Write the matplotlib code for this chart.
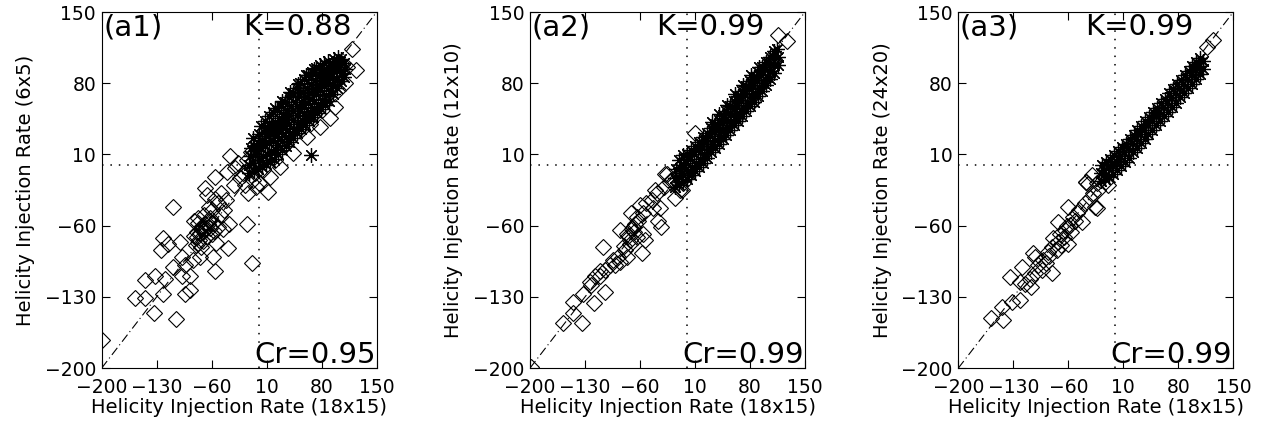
import matplotlib.pyplot as plt

# axis setup shared by the three panels
ticks = [-200, -130, -60, 10, 80, 150]
xlabel = 'Helicity Injection Rate (18x15)'
ylabels = ['Helicity Injection Rate (6x5)', 'Helicity Injection Rate (12x10)',
           'Helicity Injection Rate (24x20)']
tags = ['(a1)', '(a2)', '(a3)']
k_text = ['K=0.88', 'K=0.99', 'K=0.99']
cr_text = ['Cr=0.95', 'Cr=0.99', 'Cr=0.99']

# ---- panel a1 (6x5 vs 18x15) ----
a1_dia_x = [-200, -157, -145, -134, -105, -145, -132, -122, -119, -109, -122, -115, -124, -109, -100,
            -98, -94, -88, -98, -88, -94, -84, -75, -56, -58, -39, -54, -82, -79, -76,
            -80, -77, -83, -77, -70, -64, -58, -72, -62, -52, -46, -38, -15, -60, -66,
            -56, -48, -42, -52, -69, -56, -41, -37, -24, -18, -14, -4, -9, 12, -30,
            -26, -20, -32, -8, -64, -70, -60, -50, -44, -74, -68, -66, -78,
            -73, -71, -67, -79, -75, -65, -62, -57,
            14, 27, 44, 61, 78, 91, 97, 101, 112, 118, 124, 104, 95, 85, 70,
            55, 35, 20, 5, -5, 0, -12, -15, -10, 8, 30, 50, 75, 100, 110, 65]
a1_dia_y = [-172, -131, -131, -146, -152, -113, -109, -127, -112, -101, -72, -78, -84, -42, -76,
            -91, -127, -123, -109, -109, -99, -94, -91, -105, -91, -82, -77, -70, -66, -74,
            -79, -77, -55, -52, -50, -55, -57, -60, -62, -61, -63, -58, -58, -45, -30,
            -34, -28, -35, -38, -23, -12, -7, 8, -13, -20, -28, -22, -97, -27, -3,
            2, -8, -20, -15, -42, -65, -68, -50, -45, -63, -58, -70, -57,
            -81, -75, -62, -71, -67, -58, -52, -65,
            -12, -2, 11, 27, 37, 46, 57, 73, 96, 114, 93, 100, 90, 70, 50,
            35, 20, 5, -5, -8, -18, -5, 5, 12, 10, 30, 50, 65, 85, 80, 40]
a1_star_x = [-12, -13, -11, -10, -6, -7, -5, -6, -7, -1, 0, -2, -1, 0,
             4, 5, 3, 4, 6, 3, 9, 10, 8, 9, 11, 8, 14, 15, 13, 14, 16, 13,
             19, 20, 18, 19, 21, 18, 20, 24, 25, 23, 24, 26, 23,
             29, 30, 28, 29, 31, 28, 30, 34, 35, 33, 34, 36, 33,
             39, 40, 38, 39, 41, 38, 40, 44, 45, 43, 44, 46, 43,
             49, 50, 48, 49, 51, 48, 50, 54, 55, 53, 54, 56, 53,
             59, 60, 58, 59, 61, 58, 60, 64, 65, 63, 64, 66, 63,
             69, 70, 68, 69, 71, 68, 70, 74, 75, 73, 74, 76, 73,
             79, 80, 78, 79, 81, 78, 84, 85, 83, 84, 86, 83,
             89, 90, 88, 89, 91, 88, 94, 95, 93, 94, 96,
             99, 100, 98, 99, 101, 104, 105, 103, 104, 109, 110, 108, 67]
a1_star_y = [-8, 0, 8, 16, -6, 2, 10, 18, 26, -4, 5, 13, 21, 30,
             -2, 8, 16, 24, 32, 38, 1, 10, 19, 28, 36, 43, 3, 12, 21, 30, 39, 48,
             6, 15, 24, 33, 42, 52, 56, 10, 19, 28, 37, 46, 54,
             14, 23, 32, 41, 50, 58, 63, 18, 27, 36, 45, 54, 62,
             22, 31, 40, 49, 58, 66, 71, 26, 35, 44, 53, 62, 70,
             31, 40, 49, 58, 67, 75, 79, 35, 44, 53, 62, 71, 80,
             39, 48, 57, 66, 75, 84, 88, 43, 52, 61, 70, 79, 88,
             47, 56, 65, 74, 83, 91, 94, 51, 60, 69, 78, 87, 95,
             55, 64, 73, 82, 91, 98, 59, 68, 77, 86, 94, 100,
             63, 72, 81, 90, 98, 102, 69, 78, 87, 96, 104,
             75, 84, 93, 101, 106, 82, 90, 98, 104, 86, 94, 100, 9]

# ---- panel a2 (12x10 vs 18x15) ----
a2_dia_x = [-199, -134, -158, -145, -145, -132, -119, -122, -105, -111, -107, -58, -54,
            -124, -117, -111, -98, -94, -88, -79, -86, -73, -77, -86, -69, -64, -71,
            -56, -52, -45, -43, -35, -39, -30, -22, -41, -60, -56, -73, -64, -37,
            -33, -77, -92, -105, -15, -7, -28, -75, -70, -66, -62, -81, -68,
            10, 127, 116, 110, 101, 84, 61, 46, -9, -26, 20, 40, 70, 90, 0, -20,
            30, 55, 80, 100, -5]
a2_dia_y = [-199, -156, -156, -146, -135, -127, -136, -118, -125, -109, -81, -87, -74,
            -115, -109, -105, -99, -94, -91, -84, -96, -78, -68, -64, -61, -51, -48,
            -48, -38, -35, -43, -43, -28, -22, -17, -25, -40, -68, -74, -71, -55,
            -61, -91, -99, -104, -33, -25, -9, -70, -63, -58, -55, -80, -66,
            31, 122, 127, 104, 86, 63, 45, 36, -25, -9, 15, 30, 60, 80, -10, -15,
            22, 48, 72, 95, -18]
a2_star_x = [-15, -16, -14, -10, -11, -9, -10, -5, -6, -4, -5, 0, 1, -1, 0,
             5, 6, 4, 5, 10, 11, 9, 10, 15, 16, 14, 15, 20, 21, 19, 20,
             25, 26, 24, 25, 30, 31, 29, 30, 31, 35, 36, 34, 35,
             40, 41, 39, 40, 41, 45, 46, 44, 45, 50, 51, 49, 50, 51,
             55, 56, 54, 55, 60, 61, 59, 60, 61, 65, 66, 64, 65,
             70, 71, 69, 70, 71, 75, 76, 74, 75, 80, 81, 79, 80, 81,
             85, 86, 84, 85, 90, 91, 89, 90, 91, 95, 96, 94, 95,
             100, 101, 99, 100, 105, 106, 104, 105, 110, 111, 109, 110, 115, 116, 114]
a2_star_y = [-22, -13, -4, -20, -12, -3, 5, -16, -8, 0, 9, -14, -6, 2, 10,
             -10, -2, 6, 14, -6, 2, 10, 18, -2, 6, 14, 22, 2, 10, 18, 27,
             7, 15, 23, 31, 12, 20, 28, 36, 42, 16, 24, 32, 40,
             20, 28, 36, 44, 50, 25, 33, 41, 49, 29, 37, 45, 53, 59,
             34, 42, 50, 58, 39, 47, 55, 63, 69, 43, 51, 59, 67,
             48, 56, 64, 72, 78, 53, 61, 69, 77, 58, 66, 74, 82, 88,
             62, 70, 78, 86, 67, 75, 83, 91, 96, 72, 80, 88, 96,
             78, 86, 94, 101, 84, 92, 100, 106, 90, 98, 106, 112, 98, 106, 114]

# ---- panel a3 (24x20 vs 18x15) ----
a3_dia_x = [-158, -143, -145, -132, -122, -134, -119, -107, -105, -81, -73, -60, -24, -37,
            -122, -115, -109, -103, -94, -98, -88, -86, -81, -73, -75, -66, -64, -56,
            -58, -52, -49, -43, -39, -33, -28, -22, -26, -60, -103, -92, -35, -13,
            -79, -71, -69, -62, -54, -47, -84,
            124, 116, -37, -24, -20, -10, -30, 20, 50, 80, 105, 0]
a3_dia_y = [-151, -153, -140, -135, -133, -110, -101, -120, -87, -107, -56, -42, -43, -17,
            -115, -117, -112, -107, -104, -99, -97, -86, -81, -76, -84, -71, -64, -66,
            -59, -55, -48, -56, -38, -33, -28, -25, -42, -78, -91, -94, -19, -17,
            -72, -68, -79, -60, -51, -45, -90,
            123, 116, -17, -18, -15, -20, -10, 20, 48, 76, 98, 2]
a3_star_x = [-18, -19, -17, -13, -14, -12, -8, -9, -7, -3, -4, -2, 2, 1, 3,
             7, 6, 8, 12, 11, 13, 17, 16, 18, 22, 21, 23, 27, 26, 28,
             32, 31, 33, 37, 36, 38, 42, 41, 43, 47, 46, 48, 52, 51, 53,
             57, 56, 58, 62, 61, 63, 67, 66, 68, 72, 71, 73, 77, 76, 78,
             82, 81, 83, 87, 86, 88, 92, 91, 93, 97, 96, 98, 102, 101, 103,
             107, 106, 108, 112, 111]
a3_star_y = [-16, -8, 0, -14, -5, 3, -12, -3, 6, -9, 0, 9, -5, 4, 13,
             -1, 8, 17, 3, 12, 20, 7, 16, 25, 12, 21, 29, 16, 25, 34,
             21, 30, 38, 25, 34, 43, 30, 39, 47, 34, 43, 52, 39, 48, 56,
             43, 52, 61, 48, 57, 65, 52, 61, 70, 57, 66, 74, 61, 70, 79,
             66, 75, 83, 70, 79, 88, 75, 84, 92, 79, 88, 97, 84, 93, 101,
             89, 97, 105, 94, 102]

panels = [(a1_dia_x, a1_dia_y, a1_star_x, a1_star_y),
          (a2_dia_x, a2_dia_y, a2_star_x, a2_star_y),
          (a3_dia_x, a3_dia_y, a3_star_x, a3_star_y)]

fig = plt.figure(figsize=(12.79, 4.30), dpi=100, facecolor='white')
lefts = [0.0795, 0.4144, 0.7493]
k_pos = [0.513, 0.46, 0.46]

for i, (dx, dy, sx, sy) in enumerate(panels):
    ax = fig.add_axes([lefts[i], 0.144, 0.215, 0.828])
    ax.plot([-200, 150], [-200, 150], color='black', lw=0.8, ls='-.', dashes=(8, 3, 1, 3))
    ax.axvline(0, color='black', lw=1.1, dashes=(1, 4.5))
    ax.axhline(0, color='black', lw=1.1, dashes=(1, 4.5))
    ax.plot(dx, dy, ls='none', marker='D', ms=8.5, mfc='none', mec='black', mew=0.8)
    ax.plot(sx, sy, ls='none', marker=(8, 2, 0), ms=10.5, mec='black', mew=0.9)
    ax.set_xlim(-200, 150)
    ax.set_ylim(-200, 150)
    ax.set_xticks(ticks)
    ax.set_yticks(ticks)
    ax.tick_params(direction='in', length=6, width=0.8, top=True, right=True, labelsize=13.5)
    ax.tick_params(axis='x', pad=7)
    ax.tick_params(axis='y', pad=4)
    for s in ax.spines.values():
        s.set_linewidth(0.8)
    ax.set_xlabel(xlabel, fontsize=14, labelpad=1)
    ax.set_ylabel(ylabels[i], fontsize=14, labelpad=7)
    ax.text(0.005, 0.935, tags[i], transform=ax.transAxes, fontsize=21, va='baseline', ha='left')
    ax.text(k_pos[i], 0.935, k_text[i], transform=ax.transAxes, fontsize=21, va='baseline', ha='left')
    ax.text(0.996, 0.013, cr_text[i], transform=ax.transAxes, fontsize=21, va='baseline', ha='right')

fig.savefig('out.png', dpi=100, facecolor='white')
